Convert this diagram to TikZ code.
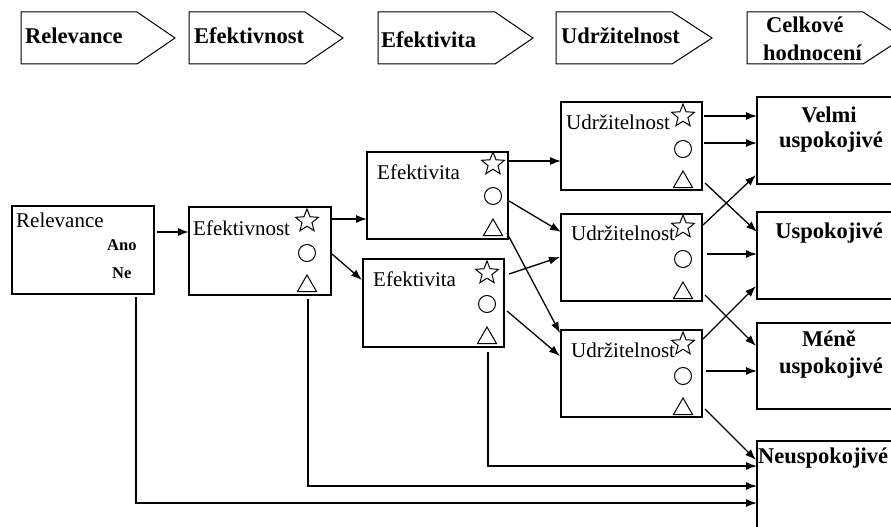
\documentclass[tikz,border=0pt]{standalone}
\usepackage{fontspec}
\setmainfont{Liberation Serif}
\usetikzlibrary{arrows.meta,calc,shapes.geometric}
\tikzset{
  boxnode/.style={draw, line width=2pt, rectangle, inner sep=0pt, outer sep=0pt, anchor=north west},
  hdrshape/.style={draw, line width=1pt, line join=miter},
  hdrtext/.style={inner sep=0pt, anchor=base west, font=\fontsize{22.5}{26}\selectfont\bfseries},
  restext/.style={inner sep=0pt, anchor=base, font=\fontsize{22.5}{26}\selectfont\bfseries},
  bodytext/.style={inner sep=0pt, anchor=base west, font=\fontsize{21}{24}\selectfont},
  smalltext/.style={inner sep=0pt, anchor=base west, font=\fontsize{16.5}{19}\selectfont\bfseries},
  starsym/.style={star, star points=5, star point ratio=2.3, draw, line width=1pt, minimum size=24pt, inner sep=0pt},
  circsym/.style={circle, draw, line width=1pt, minimum size=17pt, inner sep=0pt},
  trisym/.style={regular polygon, regular polygon sides=3, draw, line width=1pt, minimum size=22pt, inner sep=0pt},
  arr/.style={line width=1.3pt, -{Latex[length=11pt,width=8pt]}},
}
\begin{document}
\begin{tikzpicture}[x=1pt,y=-1pt]
\useasboundingbox (0,0) rectangle (891,527);
\fill[white] (0,0) rectangle (891,527);

% header arrows
\draw[hdrshape] (21,12) -- (137,12) -- (175,38) -- (137,64) -- (21,64) -- cycle;
\draw[hdrshape] (189,12) -- (305,12) -- (343,38) -- (305,64) -- (189,64) -- cycle;
\draw[hdrshape] (378,12) -- (495,12) -- (533,38) -- (495,64) -- (378,64) -- cycle;
\draw[hdrshape] (556,12) -- (672,12) -- (712,38) -- (672,64) -- (556,64) -- cycle;
\draw[hdrshape] (747,12) -- (863,12) -- (903,38) -- (863,64) -- (747,64) -- cycle;
\node[hdrtext] (h1) at (25,44) {Relevance};
\node[hdrtext] (h2) at (194,44) {Efektivnost};
\node[hdrtext] (h3) at (381,47.5) {Efektivita};
\node[hdrtext] (h4) at (561,43.5) {Udržitelnost};
\node[hdrtext] (h5) at (766,33) {Celkové};
\node[hdrtext] (h6) at (763,60) {hodnocení};

% boxes
\node[boxnode, minimum width=142pt, minimum height=88pt] (rel) at (12,206) {};
\node[boxnode, minimum width=142pt, minimum height=88pt] (efn) at (189,207) {};
\node[boxnode, minimum width=141pt, minimum height=87pt] (ef1) at (367,152) {};
\node[boxnode, minimum width=141pt, minimum height=88pt] (ef2) at (363,259) {};
\node[boxnode, minimum width=141pt, minimum height=88pt] (u1) at (561,102) {};
\node[boxnode, minimum width=141pt, minimum height=87pt] (u2) at (561,214) {};
\node[boxnode, minimum width=141pt, minimum height=87pt] (u3) at (561,330) {};
\node[boxnode, minimum width=146pt, minimum height=87pt] (r1) at (757,97) {};
\node[boxnode, minimum width=146pt, minimum height=87pt] (r2) at (757,212) {};
\node[boxnode, minimum width=146pt, minimum height=86pt] (r3) at (757,323) {};
\node[boxnode, minimum width=146pt, minimum height=100pt] (r4) at (757,441) {};

% box texts
\node[bodytext] (trel) at (16,227) {Relevance};
\node[smalltext] (tano) at (107,250) {Ano};
\node[smalltext] (tne) at (112,278) {Ne};
\node[bodytext] (tefn) at (193,235) {Efektivnost};
\node[bodytext] (tef1) at (377,179) {Efektivita};
\node[bodytext] (tef2) at (373,286) {Efektivita};
\node[bodytext] (tu1) at (566,129) {Udržitelnost};
\node[bodytext] (tu2) at (571,240) {Udržitelnost};
\node[bodytext] (tu3) at (571,357) {Udržitelnost};
\node[restext] (tr1a) at (829,122) {Velmi};
\node[restext] (tr1b) at (831,147) {uspokojivé};
\node[restext] (tr2) at (829,238) {Uspokojivé};
\node[restext] (tr3a) at (829,346) {Méně};
\node[restext] (tr3b) at (831,373) {uspokojivé};
\node[hdrtext] (tr4) at (758,463) {Neuspokojivé};

% symbols
\node[starsym] (efnS) at (307,221) {};
\node[circsym] (efnC) at (307,253) {};
\node[trisym] (efnT) at (307,286) {};
\node[starsym] (ef1S) at (493,164) {};
\node[circsym] (ef1C) at (493,196) {};
\node[trisym] (ef1T) at (493,230) {};
\node[starsym] (ef2S) at (487,273) {};
\node[circsym] (ef2C) at (487,304) {};
\node[trisym] (ef2T) at (487,338) {};
\node[starsym] (u1S) at (683,116) {};
\node[circsym] (u1C) at (683,149) {};
\node[trisym] (u1T) at (683,182) {};
\node[starsym] (u2S) at (683,227) {};
\node[circsym] (u2C) at (683,259) {};
\node[trisym] (u2T) at (683,293) {};
\node[starsym] (u3S) at (683,344) {};
\node[circsym] (u3C) at (683,376) {};
\node[trisym] (u3T) at (683,409) {};

% connectors
\draw[arr] ($(rel.north east)+(3,26)$) -- ($(efn.north west)+(0,25)$);
\draw[arr] ($(efn.north east)+(0,12)$) -- ($(ef1.north west)+(0,67)$);
\draw[arr] ($(efn.north east)+(1,47)$) -- ($(ef2.north west)+(-1,21)$);
\draw[arr] ($(ef1.north east)+(1,9)$) -- ($(u1.north west)+(0,59)$);
\draw[arr] ($(ef1.north east)+(1,49)$) -- ($(u2.north west)+(0,18)$);
\draw[arr] ($(ef1.north east)+(-1,81)$) -- ($(u3.north west)+(-1,3)$);
\draw[arr] ($(ef2.north east)+(5,15)$) -- ($(u2.north west)+(-1,43)$);
\draw[arr] ($(ef2.north east)+(3,52)$) -- ($(u3.north west)+(-1,26)$);
\draw[arr] ($(u1.north east)+(2,14)$) -- ($(r1.north west)+(0,19)$);
\draw[arr] ($(u1.north east)+(2,41)$) -- ($(r1.north west)+(0,46)$);
\draw[arr] ($(u1.north east)+(3,81)$) -- ($(r2.north west)+(0,20)$);
\draw[arr] ($(u2.north east)+(1,11)$) -- ($(r1.north west)+(-1,78)$);
\draw[arr] ($(u2.north east)+(5,40)$) -- ($(r2.north west)+(0,42)$);
\draw[arr] ($(u2.north east)+(3,81)$) -- ($(r3.north west)+(-1,23)$);
\draw[arr] ($(u3.north east)+(1,9)$) -- ($(r2.north west)+(-1,74)$);
\draw[arr] ($(u3.north east)+(4,41)$) -- ($(r3.north west)+(0,48)$);
\draw[arr] ($(u3.north east)+(3,79)$) -- ($(r4.north west)+(-1,19)$);
\draw[arr] ($(ef2.south east)+(-16,5)$) |- ($(r4.north west)+(0,25)$);
\draw[arr] ($(efn.south east)+(-23,4)$) |- ($(r4.north west)+(0,45)$);
\draw[arr] ($(rel.south east)+(-18,3)$) |- ($(r4.north west)+(0,62)$);
\end{tikzpicture}
\end{document}
